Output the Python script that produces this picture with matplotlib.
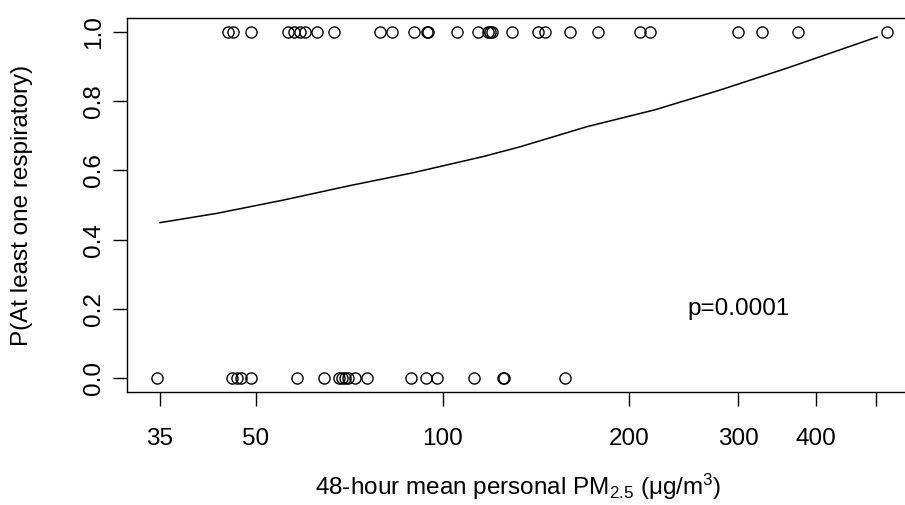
import matplotlib
matplotlib.use("Agg")
import matplotlib.pyplot as plt

plt.rcParams['font.family'] = ['Liberation Sans', 'DejaVu Sans']
plt.rcParams['mathtext.fontset'] = 'custom'
plt.rcParams['mathtext.rm'] = 'Liberation Sans'
plt.rcParams['mathtext.it'] = 'Liberation Sans'

# observed PM2.5 for subjects with at least one respiratory symptom (y = 1)
pm_yes = [45.1, 45.9, 49.1, 56.3, 57.6, 58.9, 60.0, 62.7, 66.8, 79.3,
          82.9, 90.0, 94.4, 94.7, 105.5, 114.1, 118.4, 119.3, 120.2, 129.5,
          142.6, 146.4, 160.6, 178.2, 208.4, 216.2, 299.9, 328.0, 374.8, 521.8]
# subjects without symptoms (y = 0)
pm_no = [34.6, 45.7, 46.6, 47.3, 49.1, 58.2, 64.4, 68.1, 68.8, 69.6,
         70.4, 72.3, 75.6, 89.0, 94.1, 98.0, 112.4, 125.0, 125.6, 157.7]

# fitted probability curve
fit_pm = [35.0, 43.3, 55.3, 70.9, 89.6, 116.4, 133.4, 170.9, 220.3, 280.5,
          359.4, 446.0, 502.6]
fit_p = [0.449, 0.476, 0.514, 0.556, 0.593, 0.640, 0.668, 0.726, 0.775, 0.832,
         0.895, 0.953, 0.985]

xticks = [35, 50, 100, 200, 300, 400, 500]
xtick_labels = ['35', '50', '100', '200', '300', '400', '']
yticks = [0.0, 0.2, 0.4, 0.6, 0.8, 1.0]

fig = plt.figure(figsize=(9.05, 5.05), dpi=100)
ax = fig.add_axes([0.1403, 0.2238, 0.873, 0.7406])

# open circles like R's pch=1
ax.plot(pm_yes, [1] * len(pm_yes), 'o', mfc='none', mec='black', ms=8, mew=1.0)
ax.plot(pm_no, [0] * len(pm_no), 'o', mfc='none', mec='black', ms=8, mew=1.0)
ax.plot(fit_pm, fit_p, '-', color='black', lw=1.1)

ax.set_xscale('log')
ax.set_xlim(30.96, 583)
ax.set_ylim(-0.04, 1.04)

ax.set_xticks(xticks)
ax.set_xticklabels(xtick_labels)
ax.xaxis.set_minor_locator(matplotlib.ticker.NullLocator())
ax.set_yticks(yticks)
ax.set_yticklabels(['%.1f' % v for v in yticks], rotation=90, va='center')

ax.tick_params(axis='both', direction='out', length=10, width=1, labelsize=17.5)
ax.tick_params(axis='x', pad=16)
ax.tick_params(axis='y', pad=6)
for s in ax.spines.values():
    s.set_linewidth(1.0)

ax.text(300, 0.2, 'p=0.0001', ha='center', va='center', fontsize=17.5)

ax.set_ylabel('P(At least one respiratory)', fontsize=17.5, va='center')
ax.yaxis.set_label_coords(-0.133, 0.5)
ax.set_xlabel(r'48-hour mean personal PM$_{2.5}$ ($\mu$g/m$^3$)', fontsize=17.5, va='center')
ax.xaxis.set_label_coords(0.495, -0.255)

fig.savefig('out.png', dpi=100)
plt.close(fig)
